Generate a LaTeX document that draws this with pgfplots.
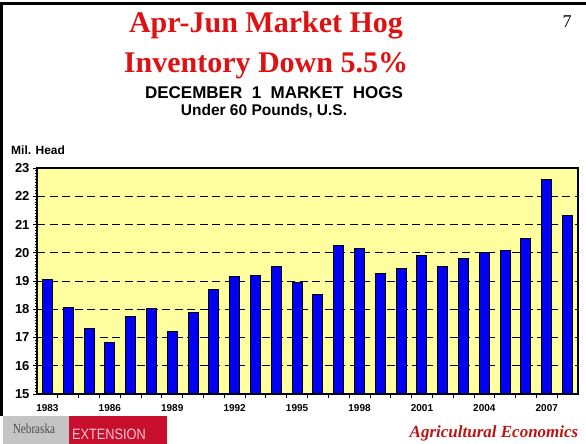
\documentclass[border=0pt]{standalone}
\usepackage{pgfplots}
\pgfplotsset{compat=1.18}
\usepackage{fontspec}
\setmainfont{Liberation Serif}
\setsansfont{Liberation Sans}
\definecolor{titlered}{RGB}{222,18,18}
\definecolor{plotbg}{RGB}{255,255,160}
\definecolor{barblue}{RGB}{0,0,245}
\definecolor{unlred}{RGB}{200,16,46}
\definecolor{agred}{RGB}{190,20,20}
\definecolor{nebgray}{RGB}{196,196,196}
\definecolor{extpink}{RGB}{245,200,210}

\begin{document}
\begin{tikzpicture}[x=1pt,y=1pt]
\useasboundingbox (0,0) rectangle (586,444);
\fill[white] (0,0) rectangle (586,444);
% slide border
\draw[line width=3pt] (1.5,28) -- (1.5,440) -- (586,440);
% titles
\node[anchor=base, text=titlered, font=\bfseries\fontsize{30}{30}\selectfont, inner sep=0] at (266,411) {Apr-Jun Market Hog};
\node[anchor=base, text=titlered, font=\bfseries\fontsize{30}{30}\selectfont, inner sep=0] at (266,371) {Inventory Down 5.5\%};
\node[anchor=base, font=\sffamily\bfseries\fontsize{17}{17}\selectfont, inner sep=0] at (274,345) {DECEMBER\ \ 1\ \ MARKET\ \ HOGS};
\node[anchor=base, font=\sffamily\bfseries\fontsize{15.5}{15.5}\selectfont, inner sep=0] at (264,328) {Under 60 Pounds, U.S.};
\node[anchor=base, font=\fontsize{18}{18}\selectfont, inner sep=0] at (567,416) {7};
\node[anchor=base west, font=\sffamily\bfseries\fontsize{12}{12}\selectfont, inner sep=0] at (11,289) {Mil. Head};
% footer
\fill[nebgray] (3,0) rectangle (69,28);
\fill[unlred] (69,0) rectangle (167,28);
\node[anchor=base, font=\fontsize{14}{14}\selectfont, text=black!70, inner sep=0, xscale=0.8] at (34,10) {Nebraska};
\node[anchor=base west, font=\sffamily\fontsize{15}{15}\selectfont, text=extpink, inner sep=0, xscale=0.85] at (72,4) {EXTENSION};
\node[anchor=base, font=\bfseries\itshape\fontsize{17}{17}\selectfont, text=agred, inner sep=0] at (494,6) {Agricultural Economics};
\begin{axis}[
  at={(37pt,50pt)}, anchor=south west,
  width=541pt, height=226pt, scale only axis,
  xmin=-0.5, xmax=25.5, ymin=15, ymax=23,
  axis background/.style={fill=plotbg},
  axis line style={line width=1.5pt},
  ytick={15,...,23}, minor y tick num=9,
  xtick={0.5,1.5,...,24.5}, xticklabels={},
  extra x ticks={0,3,...,24},
  extra x tick labels={1983,1986,1989,1992,1995,1998,2001,2004,2007},
  extra x tick style={tick style={draw=none}},
  tick align=outside, xtick pos=bottom, ytick pos=left,
  major tick length=4pt, minor tick length=2.5pt,
  tick style={black, line width=0.8pt},
  ymajorgrids,
  grid style={black, line width=0.7pt, dash pattern=on 8pt off 4.5pt},
  /pgf/number format/assume math mode=true,
  yticklabel style={font=\sffamily\bfseries\fontsize{13}{13}\selectfont},
  xticklabel style={font=\sffamily\bfseries\fontsize{10}{10}\selectfont, yshift=-3pt},
  ybar, bar width=10pt,
]
\addplot[fill=barblue, draw=black, line width=1pt] coordinates {
(0,19.06) (1,18.07) (2,17.33) (3,16.83) (4,17.74) (5,18.01) (6,17.20) (7,17.87)
(8,18.69) (9,19.15) (10,19.20) (11,19.50) (12,18.93) (13,18.53) (14,20.25) (15,20.15)
(16,19.26) (17,19.44) (18,19.91) (19,19.50) (20,19.78) (21,20.01) (22,20.09) (23,20.49)
(24,22.59) (25,21.33)
};
\end{axis}
\end{tikzpicture}
\end{document}
